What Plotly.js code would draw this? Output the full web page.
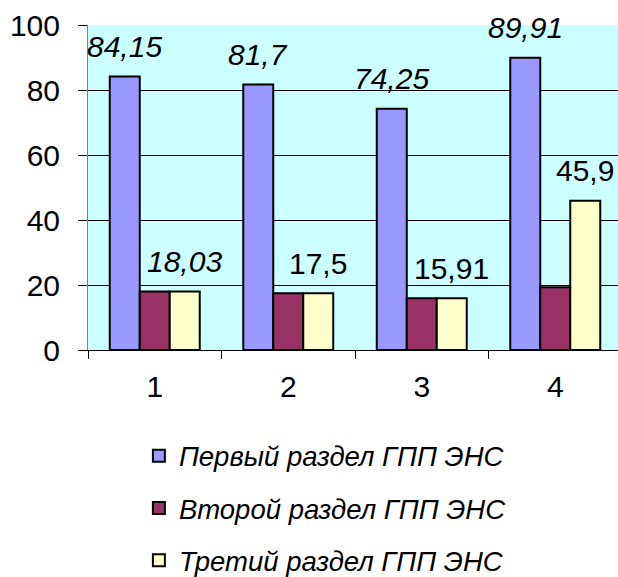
<!DOCTYPE html>
<html><head><meta charset="utf-8">
<script src="https://cdn.plot.ly/plotly-3.0.1.min.js"></script>
<style>html,body{margin:0;padding:0;overflow:hidden;background:#fff}</style>
</head><body><div id="chart" style="width:618px;height:577px"></div>
<script>
const categories = ["1", "2", "3", "4"];
const seriesNames = ["Первый раздел ГПП ЭНС", "Второй раздел ГПП ЭНС", "Третий раздел ГПП ЭНС"];
const first = [84.15, 81.7, 74.25, 89.91];
const second = [18.03, 17.5, 15.91, 19.3];
const third = [18.03, 17.5, 15.91, 45.9];
const firstLabels = ["84,15", "81,7", "74,25", "89,91"];
const thirdLabels = ["18,03", "17,5", "15,91", "45,9"];
const thirdItalic = [true, false, false, false];
const colors = ["#9999FF", "#993366", "#FFFFCC"];

const FONT = "Liberation Sans, Arial, sans-serif";
const values = [first, second, third];
const traces = values.map((v, i) => ({
  type: "bar", x: categories, y: v, name: seriesNames[i],
  legendgroup: "g" + i,
  marker: {color: colors[i], line: {color: "#000", width: 2}},
  hoverinfo: "skip"
}));

const annotations = [];
first.forEach((v, i) => annotations.push({
  x: i, y: v, xref: "x", yref: "y", xshift: -30, yshift: 30,
  text: "<i>" + firstLabels[i] + "</i>", showarrow: false, yanchor: "middle",
  font: {family: FONT, size: 30, color: "#000"}
}));
third.forEach((v, i) => annotations.push({
  x: i, y: v, xref: "x", yref: "y", xshift: 30, yshift: 30,
  text: thirdItalic[i] ? "<i>" + thirdLabels[i] + "</i>" : thirdLabels[i],
  showarrow: false, yanchor: "middle",
  font: {family: FONT, size: 30, color: "#000"}
}));

const layout = {
  width: 618, height: 577,
  margin: {l: 88, r: 0, t: 25, b: 227, pad: 0, autoexpand: false},
  paper_bgcolor: "#FFFFFF", plot_bgcolor: "#CCFFFF",
  barmode: "group", bargap: 0.326, bargroupgap: 0,
  font: {family: FONT, size: 30, color: "#000"},
  showlegend: true,
  legend: {
    x: 0.096, xanchor: "left", y: -0.25, yanchor: "top",
    font: {family: FONT, size: 27.5, color: "#000", style: "italic"},
    traceorder: "grouped", tracegroupgap: 13.5,
    bgcolor: "rgba(0,0,0,0)"
  },
  xaxis: {
    type: "category", range: [-0.5, 3.47], showgrid: false,
    showline: true, linecolor: "#000", linewidth: 1,
    ticks: "outside", tickson: "boundaries", ticklen: 8, tickcolor: "#000",
    tickfont: {family: FONT, size: 30, color: "#000"},
    ticklabelstandoff: 10, fixedrange: true
  },
  yaxis: {
    range: [0, 100], tickvals: [0, 20, 40, 60, 80, 100],
    showgrid: true, gridcolor: "#000", gridwidth: 1,
    showline: true, linecolor: "#808080", linewidth: 1,
    ticks: "outside", ticklen: 9, tickcolor: "#000",
    tickfont: {family: FONT, size: 30, color: "#000"},
    ticklabelstandoff: 12, zeroline: false, fixedrange: true
  },
  annotations: annotations
};
Plotly.newPlot("chart", traces, layout, {staticPlot: true});
</script></body></html>
